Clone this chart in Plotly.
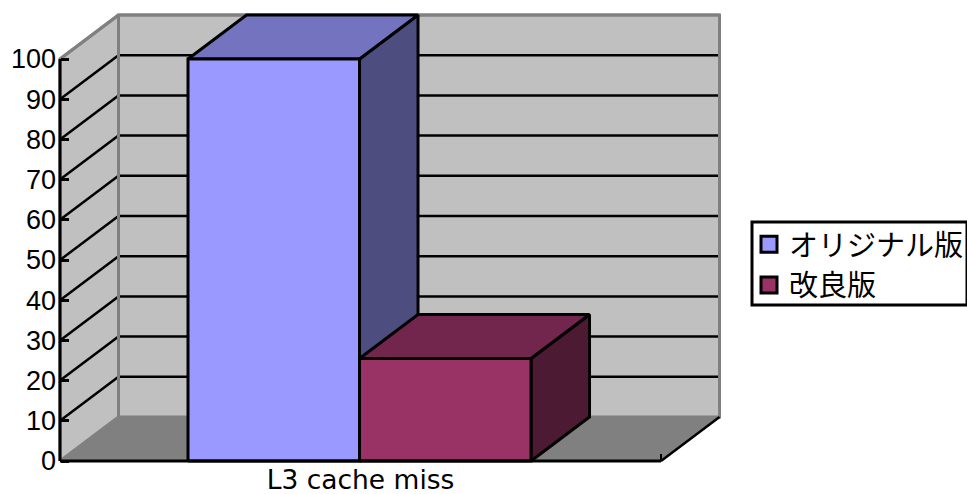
import plotly.graph_objects as go

categories = ["L3 cache miss"]
series_names = ["オリジナル版", "改良版"]
series_values = [100, 25.5]
y_ticks = [0, 10, 20, 30, 40, 50, 60, 70, 80, 90, 100]

front_colors = ["#9999FF", "#993366"]
top_colors = ["#7373BF", "#73264D"]
side_colors = ["#4D4D80", "#4D1A33"]

WALL = "#C0C0C0"
FLOOR = "#808080"
EDGE = "#808080"

# Page and plot scale: one category spans 601 px, one value unit 4.02 px
W, H = 967, 494
ORIGIN_X, ORIGIN_Y = 60, 461
PX_PER_X = 601
PX_PER_Y = 4.02

# Oblique projection offsets for the depth axis, in axis units
DX = 58.5 / PX_PER_X
DY = 44 / PX_PER_Y
GAP = 0.213
BAR_W = 171.5 / PX_PER_X
Y_MAX = y_ticks[-1]


def poly(points, fill, line_color, width=3):
    xs, ys = zip(*(points + [points[0]]))
    return go.Scatter(
        x=xs, y=ys, mode="lines", fill="toself", fillcolor=fill,
        line=dict(color=line_color, width=width),
        showlegend=False, hoverinfo="skip",
    )


def lines(segments, color, width=2.5):
    xs, ys = [], []
    for (x0, y0), (x1, y1) in segments:
        xs += [x0, x1, None]
        ys += [y0, y1, None]
    return go.Scatter(
        x=xs, y=ys, mode="lines", line=dict(color=color, width=width),
        showlegend=False, hoverinfo="skip", connectgaps=False,
    )


fig = go.Figure()

# Walls and floor of the 3D box
fig.add_trace(poly([(0, 0), (DX, DY), (DX, Y_MAX + DY), (0, Y_MAX)], WALL, EDGE))
fig.add_trace(poly([(DX, DY), (1 + DX, DY), (1 + DX, Y_MAX + DY), (DX, Y_MAX + DY)], WALL, EDGE))
fig.add_trace(poly([(0, 0), (1, 0), (1 + DX, DY), (DX, DY)], FLOOR, EDGE, 1.5))

# Gridlines run across the side wall and the back wall
grid = []
for v in y_ticks[1:-1]:
    grid.append(((0, v), (DX, v + DY)))
    grid.append(((DX, v + DY), (1 + DX, v + DY)))
fig.add_trace(lines(grid, "black"))
fig.add_trace(lines([((DX, DY), (DX, Y_MAX + DY)), ((1 + DX, DY), (1 + DX, Y_MAX + DY)),
                     ((DX, Y_MAX + DY), (1 + DX, Y_MAX + DY)), ((0, Y_MAX), (DX, Y_MAX + DY))], EDGE, 3))
fig.add_trace(lines([((1, 0), (1 + DX, DY))], "black"))

# Bars: side and top faces first, then the front, in series order
for i, value in enumerate(series_values):
    x0 = GAP + i * BAR_W
    x1 = x0 + BAR_W
    fig.add_trace(poly([(x1, 0), (x1 + DX, DY), (x1 + DX, value + DY), (x1, value)], side_colors[i], "black"))
    fig.add_trace(poly([(x0, value), (x1, value), (x1 + DX, value + DY), (x0 + DX, value + DY)], top_colors[i], "black"))
    fig.add_trace(poly([(x0, 0), (x1, 0), (x1, value), (x0, value)], front_colors[i], "black"))

# Axis lines sit on the front edge of the box
fig.add_trace(lines([((0, 0), (0, Y_MAX)), ((0, 0), (1, 0))], "black", 3))

# Legend entries
for name, color in zip(series_names, front_colors):
    fig.add_trace(go.Scatter(
        x=[None], y=[None], mode="markers", name=name,
        marker=dict(symbol="square", size=16, color=color, line=dict(color="black", width=3)),
    ))

fig.update_layout(
    width=W, height=H,
    margin=dict(l=0, r=0, t=0, b=0, autoexpand=False),
    paper_bgcolor="white", plot_bgcolor="rgba(0,0,0,0)",
    font=dict(family="Liberation Sans", color="black"),
    legend=dict(
        x=749 / W, y=1 - 219 / H, xanchor="left", yanchor="top",
        bgcolor="rgba(0,0,0,0)", borderwidth=0,
        font=dict(family="Noto Sans CJK JP", size=29, color="black"),
        itemsizing="trace", tracegroupgap=0,
    ),
    shapes=[dict(
        type="rect", xref="paper", yref="paper", layer="above",
        x0=752 / W, x1=967 / W, y0=1 - 305 / H, y1=1 - 222 / H,
        line=dict(color="black", width=3), fillcolor="rgba(0,0,0,0)",
    )],
    xaxis=dict(
        domain=[0, 1], range=[-ORIGIN_X / PX_PER_X, (W - ORIGIN_X) / PX_PER_X],
        anchor="free", position=(H - ORIGIN_Y) / H,
        tickvals=[0.5], ticktext=categories, ticks="", ticklabelstandoff=0,
        showgrid=False, zeroline=False, showline=False,
        tickfont=dict(family="DejaVu Sans", size=26.5),
        minor=dict(tickvals=[1], ticks="inside", ticklen=7, tickcolor="black", tickwidth=2),
    ),
    yaxis=dict(
        domain=[0, 1], range=[-(H - ORIGIN_Y) / PX_PER_Y, ORIGIN_Y / PX_PER_Y],
        anchor="free", position=ORIGIN_X / W,
        tickvals=y_ticks, ticks="inside", ticklen=8, tickwidth=2.5, tickcolor="black",
        ticklabelstandoff=4,
        showgrid=False, zeroline=False, showline=False,
        tickfont=dict(family="Liberation Sans", size=27),
    ),
)

fig.write_html("out.html")
